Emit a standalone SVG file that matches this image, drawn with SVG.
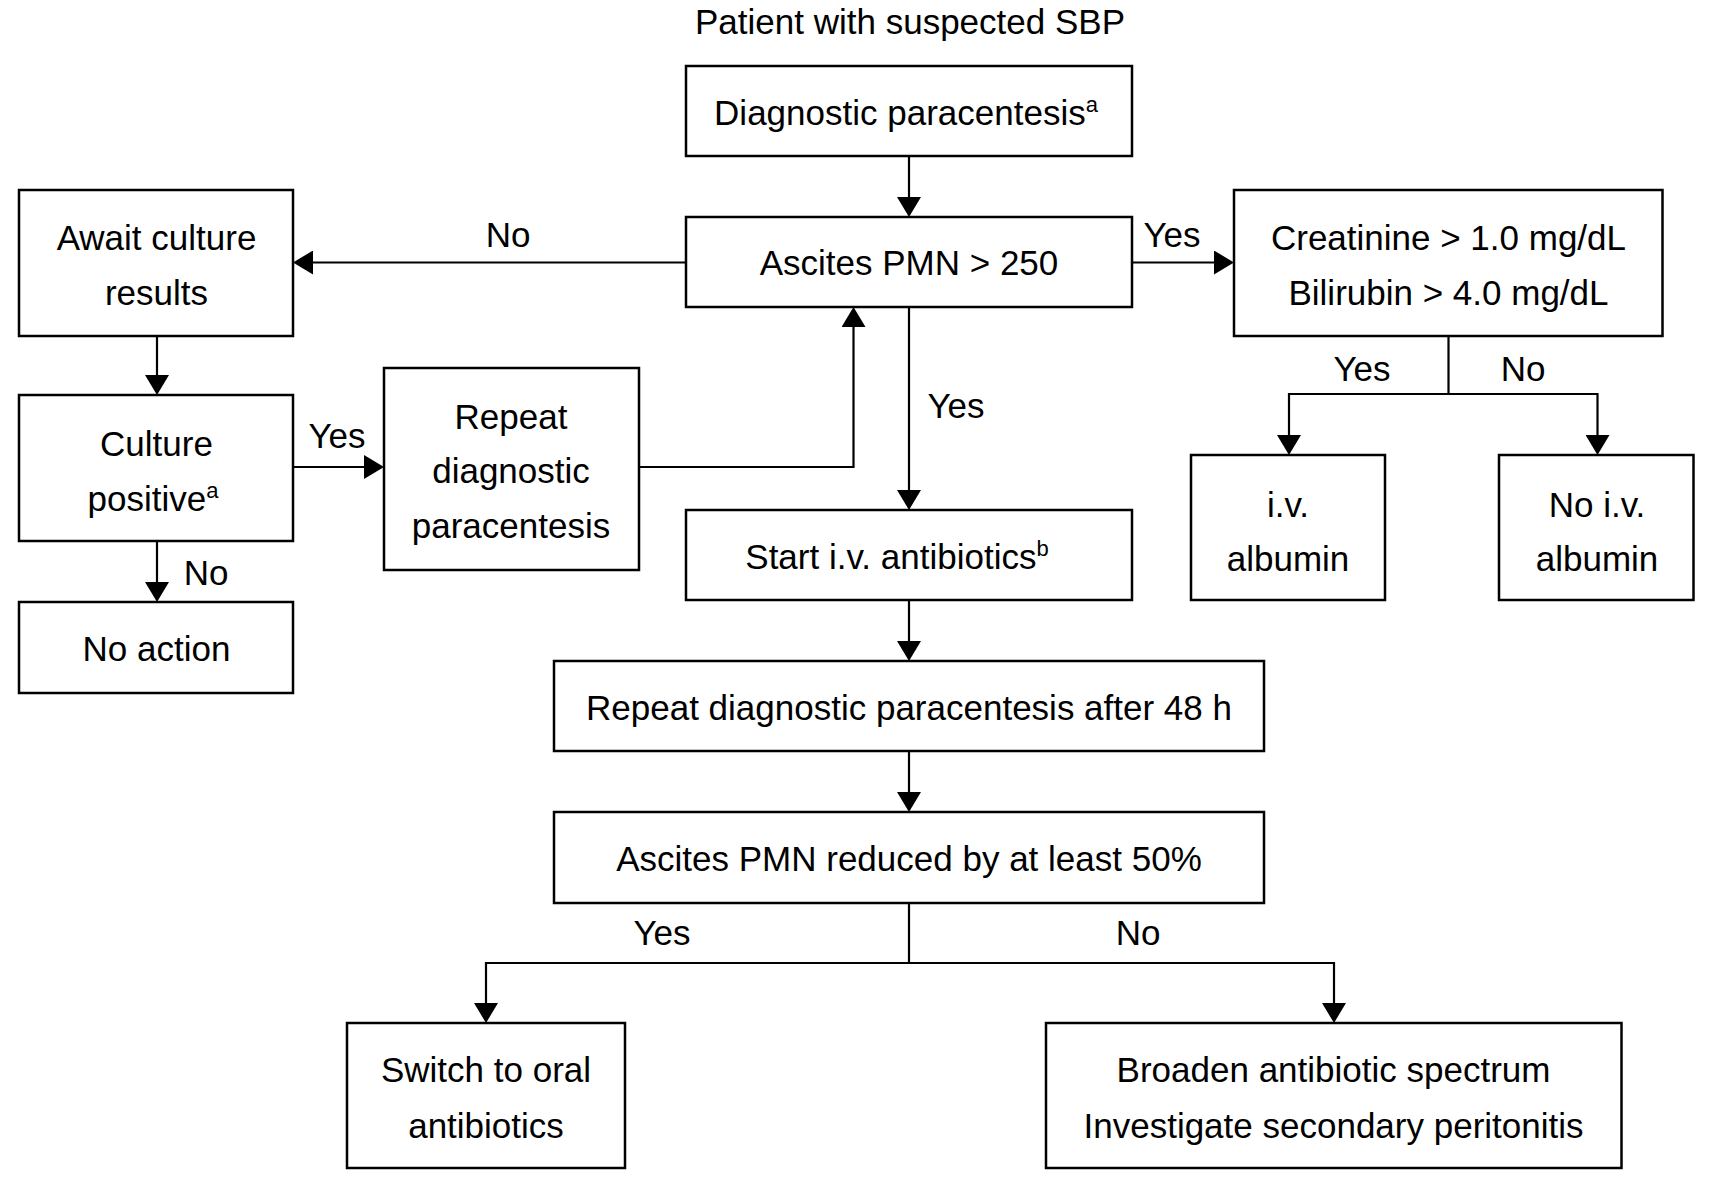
<svg xmlns="http://www.w3.org/2000/svg" width="1716" height="1191" viewBox="0 0 1716 1191">
<defs>
<style>
.box{fill:#fff;stroke:#000;stroke-width:2.5}
.t{font-family:"Liberation Sans",Arial,sans-serif;font-size:35px;fill:#000;text-anchor:middle}
.sup{font-size:22px}
.c{fill:none;stroke:#000;stroke-width:2.2;marker-end:url(#ah)}
.l{fill:none;stroke:#000;stroke-width:2.2}
</style>
<marker id="ah" viewBox="0 0 20 24" refX="17" refY="12" markerWidth="20" markerHeight="24" markerUnits="userSpaceOnUse" orient="auto">
<path d="M0,0 L20,12 L0,24 Z" fill="#000"/>
</marker>
</defs>
<rect width="1716" height="1191" fill="#fff"/>
<text class="t" x="910" y="34">Patient with suspected SBP</text>
<g id="connectors">
<path class="c" d="M909 156 V214"/>
<path class="c" d="M686 262.5 H296"/>
<path class="c" d="M1132 262.5 H1231"/>
<path class="c" d="M909 307 V507"/>
<path class="c" d="M157 336 V392"/>
<path class="c" d="M293 467 H381"/>
<path class="c" d="M639 467 H853.5 V310"/>
<path class="c" d="M157 541 V599"/>
<path class="c" d="M1448.5 336 V394 H1289 V452"/>
<path class="c" d="M1448.5 394 H1597.5 V452"/>
<path class="c" d="M909 600 V658"/>
<path class="c" d="M909 751 V809"/>
<path class="c" d="M909 903 V963 H486 V1020"/>
<path class="c" d="M909 963 H1334 V1020"/>
<text class="t" x="508" y="247">No</text>
<text class="t" x="1172" y="247">Yes</text>
<text class="t" x="956" y="418">Yes</text>
<text class="t" x="337" y="448">Yes</text>
<text class="t" x="206" y="585">No</text>
<text class="t" x="1362" y="381">Yes</text>
<text class="t" x="1523" y="381">No</text>
<text class="t" x="662" y="945">Yes</text>
<text class="t" x="1138" y="945">No</text>
</g>
<g id="diag">
<rect class="box" x="686" y="66" width="446" height="90"/>
<text class="t" x="906" y="125">Diagnostic paracentesis<tspan class="sup" dy="-13">a</tspan></text>
</g>
<g id="pmn">
<rect class="box" x="686" y="217" width="446" height="90"/>
<text class="t" x="909" y="275">Ascites PMN &gt; 250</text>
</g>
<g id="await">
<rect class="box" x="19" y="190" width="274" height="146"/>
<text class="t" x="156.5" y="250">Await culture</text>
<text class="t" x="156.5" y="304.5">results</text>
</g>
<g id="culture">
<rect class="box" x="19" y="395" width="274" height="146"/>
<text class="t" x="156.5" y="456">Culture</text>
<text class="t" x="153" y="510.5">positive<tspan class="sup" dy="-13">a</tspan></text>
</g>
<g id="repeat">
<rect class="box" x="384" y="368" width="255" height="202"/>
<text class="t" x="511" y="428.5">Repeat</text>
<text class="t" x="511" y="483">diagnostic</text>
<text class="t" x="511" y="537.5">paracentesis</text>
</g>
<g id="noaction">
<rect class="box" x="19" y="602" width="274" height="91"/>
<text class="t" x="156.5" y="660.5">No action</text>
</g>
<g id="creat">
<rect class="box" x="1234" y="190" width="428.5" height="146"/>
<text class="t" x="1448.5" y="250">Creatinine &gt; 1.0 mg/dL</text>
<text class="t" x="1448.5" y="304.5">Bilirubin &gt; 4.0 mg/dL</text>
</g>
<g id="ivalb">
<rect class="box" x="1191" y="455" width="194" height="145"/>
<text class="t" x="1288" y="517">i.v.</text>
<text class="t" x="1288" y="570.5">albumin</text>
</g>
<g id="noivalb">
<rect class="box" x="1499" y="455" width="194.5" height="145"/>
<text class="t" x="1597" y="517">No i.v.</text>
<text class="t" x="1597" y="570.5">albumin</text>
</g>
<g id="start">
<rect class="box" x="686" y="510" width="446" height="90"/>
<text class="t" x="897" y="569">Start i.v. antibiotics<tspan class="sup" dy="-13">b</tspan></text>
</g>
<g id="repeat48">
<rect class="box" x="554" y="661" width="710" height="90"/>
<text class="t" x="909" y="720">Repeat diagnostic paracentesis after 48 h</text>
</g>
<g id="reduced">
<rect class="box" x="554" y="812" width="710" height="91"/>
<text class="t" x="909" y="871">Ascites PMN reduced by at least 50%</text>
</g>
<g id="switch">
<rect class="box" x="347" y="1023" width="278" height="145"/>
<text class="t" x="486" y="1082">Switch to oral</text>
<text class="t" x="486" y="1137.5">antibiotics</text>
</g>
<g id="broaden">
<rect class="box" x="1046" y="1023" width="575.5" height="145"/>
<text class="t" x="1333.5" y="1082">Broaden antibiotic spectrum</text>
<text class="t" x="1333.5" y="1137.5">Investigate secondary peritonitis</text>
</g>
</svg>
